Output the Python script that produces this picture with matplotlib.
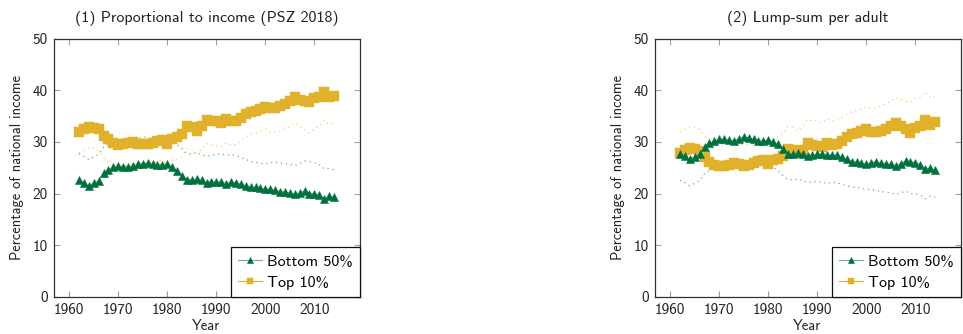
import numpy as np
import matplotlib
matplotlib.use('Agg')
import matplotlib.pyplot as plt

plt.rcParams['font.family'] = ['cmss10', 'DejaVu Sans']
plt.rcParams['axes.unicode_minus'] = False
plt.rcParams['mathtext.fontset'] = 'cm'

years = np.arange(1962, 2015)

# (1) shares when income is allocated proportionally (PSZ 2018)
prop_bottom50 = [22.6, 22.1, 21.5, 22.0, 22.5, 23.9, 24.5, 25.1, 25.3, 25.2,
                 25.2, 25.3, 25.7, 25.8, 25.9, 25.7, 25.6, 25.6, 25.7, 25.1,
                 24.4, 23.5, 22.7, 22.7, 22.8, 22.6, 22.1, 22.3, 22.3, 22.3,
                 21.9, 22.2, 22.1, 21.8, 21.5, 21.3, 21.2, 21.0, 20.8, 20.8,
                 20.6, 20.4, 20.3, 20.1, 19.9, 20.1, 20.5, 20.0, 20.0, 19.7,
                 19.0, 19.5, 19.3]
prop_top10 = [31.9, 32.4, 32.9, 32.7, 32.4, 31.1, 30.5, 29.7, 29.4, 29.5,
              29.8, 29.9, 29.5, 29.5, 29.5, 29.8, 30.1, 30.3, 29.5, 30.6,
              31.0, 31.6, 33.0, 32.8, 32.1, 33.0, 34.3, 34.1, 34.1, 33.7,
              34.5, 34.1, 34.1, 34.7, 35.3, 35.8, 36.0, 36.4, 36.8, 36.5,
              36.6, 36.9, 37.4, 37.9, 38.6, 38.2, 37.9, 37.7, 38.4, 38.6,
              39.7, 38.6, 38.9]

# (2) shares when income is allocated lump-sum per adult
lump_bottom50 = [27.7, 27.2, 26.6, 27.1, 27.6, 29.0, 29.7, 30.2, 30.5, 30.5,
                 30.3, 30.2, 30.6, 31.0, 30.8, 30.5, 30.2, 30.2, 30.3, 30.0,
                 29.5, 28.7, 27.7, 27.7, 27.9, 27.6, 27.2, 27.4, 27.6, 27.7,
                 27.4, 27.5, 27.4, 27.0, 26.6, 26.2, 26.1, 25.9, 25.7, 26.0,
                 26.1, 25.9, 25.8, 25.7, 25.4, 25.8, 26.3, 26.2, 26.0, 25.6,
                 24.8, 24.9, 24.6]
lump_top10 = [27.9, 28.4, 28.9, 28.7, 28.3, 27.0, 26.1, 25.6, 25.4, 25.4,
              25.6, 25.9, 25.7, 25.4, 25.6, 25.9, 26.3, 26.5, 25.7, 26.5,
              26.7, 27.2, 28.7, 28.5, 27.9, 28.5, 29.7, 29.4, 29.3, 29.0,
              29.8, 29.4, 29.5, 30.2, 31.0, 31.5, 31.7, 32.1, 32.5, 31.9,
              31.9, 32.1, 32.5, 33.0, 33.7, 33.0, 32.4, 31.7, 32.6, 33.0,
              34.2, 33.3, 33.9]

titles = ['(1) Proportional to income (PSZ 2018)', '(2) Lump-sum per adult']
series_labels = ['Bottom 50%', 'Top 10%']
x_ticks = [1960, 1970, 1980, 1990, 2000, 2010]
y_ticks = [0, 10, 20, 30, 40, 50]

green_dark = '#00713d'
green_light = '#66b48f'
gold_dark = '#e2b12c'
gold_light = '#f0cf73'
text_col = '#202020'

W, H = 963, 334
fig = plt.figure(figsize=(W / 100, H / 100), dpi=100)
ax1 = fig.add_axes([53.5 / W, 37 / H, 306 / W, 258.5 / H])
ax2 = fig.add_axes([654.5 / W, 37 / H, 306 / W, 258.5 / H])

panels = [(ax1, prop_bottom50, prop_top10, lump_bottom50, lump_top10),
          (ax2, lump_bottom50, lump_top10, prop_bottom50, prop_top10)]

for i, (ax, b50, t10, ob50, ot10) in enumerate(panels):
    # the other method, drawn faintly for comparison
    ax.plot(years, ob50, color=green_light, lw=0.9, ls=(0, (1, 3)), zorder=1)
    ax.plot(years, ot10, color=gold_light, lw=0.9, ls=(0, (1, 3)), zorder=1)

    ax.plot(years, b50, color=green_light, lw=0.8, marker='^', ms=5.5,
            mfc=green_dark, mec=green_dark, mew=0.4, label=series_labels[0],
            zorder=3)
    ax.plot(years, t10, color=gold_dark, lw=0.8, marker='s', ms=6.5,
            mfc=gold_dark, mec=gold_dark, mew=0.3, label=series_labels[1],
            zorder=2)

    ax.set_xlim(1956.8, 2019.2)
    ax.set_ylim(0, 50)
    ax.set_xticks(x_ticks)
    ax.set_yticks(y_ticks)
    ax.tick_params(direction='in', length=4, width=0.8, color='#a0a0a0',
                   top=True, right=True, labelsize=11, pad=4,
                   labelcolor=text_col)
    for sp in ax.spines.values():
        sp.set_linewidth(0.9)
        sp.set_color('#303030')
    ax.set_title(titles[i], fontsize=11.5, pad=12, color=text_col)
    ax.set_xlabel('Year', fontsize=10.5, labelpad=2, color=text_col)
    ax.set_ylabel('Percentage of national income', fontsize=10.5,
                  labelpad=6, color=text_col)

    leg = ax.legend(loc='lower right', borderaxespad=0, fontsize=11.5,
                    fancybox=False, framealpha=1, edgecolor='#101010',
                    handlelength=1.5, handletextpad=0.3,
                    borderpad=0.45, labelspacing=0.45)
    leg.get_frame().set_linewidth(0.9)
    for h in leg.legend_handles:
        h.set_markersize(5)

fig.savefig('out.png', dpi=100)
